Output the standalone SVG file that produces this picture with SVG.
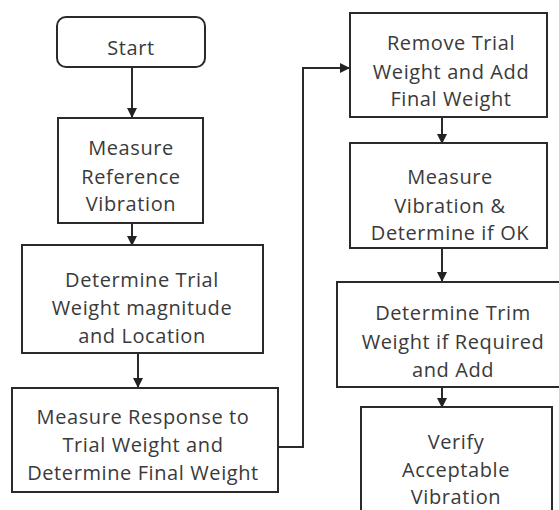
<svg xmlns="http://www.w3.org/2000/svg" width="559" height="510" viewBox="0 0 559 510">
<defs>
<marker id="ah" markerWidth="10" markerHeight="10" refX="9" refY="5" orient="auto" markerUnits="userSpaceOnUse">
<path d="M0,0 L10,5 L0,10 Z" fill="#222"/>
</marker>
<style>
.box{fill:#fff;stroke:#2a2a2a;stroke-width:2}
.t{font-family:"Open Sans","Liberation Sans",sans-serif;font-size:20px;letter-spacing:0.6px;fill:#3a3a3a;text-anchor:middle}
.c{fill:none;stroke:#2a2a2a;stroke-width:2;marker-end:url(#ah)}
</style>
</defs>
<rect width="559" height="510" fill="#fff"/>
<g id="connectors">
<line class="c" x1="132" y1="67" x2="132" y2="117"/>
<line class="c" x1="132" y1="223" x2="132" y2="245"/>
<line class="c" x1="138" y1="353" x2="138" y2="387"/>
<polyline class="c" points="278,447 303,447 303,68 349,68"/>
<line class="c" x1="442" y1="117" x2="442" y2="143"/>
<line class="c" x1="442" y1="248" x2="442" y2="281"/>
<line class="c" x1="442" y1="387" x2="442" y2="407"/>
</g>
<g id="start">
<rect class="box" x="57" y="17" width="148" height="50" rx="9"/>
<text class="t" x="131" y="55">Start</text>
</g>
<g id="measure-ref">
<rect class="box" x="58" y="118" width="145" height="105"/>
<text class="t" x="131" y="155">Measure</text>
<text class="t" x="131" y="184">Reference</text>
<text class="t" x="131" y="211">Vibration</text>
</g>
<g id="determine-trial">
<rect class="box" x="22" y="245" width="241" height="108"/>
<text class="t" x="142" y="287">Determine Trial</text>
<text class="t" x="142" y="315">Weight magnitude</text>
<text class="t" x="142" y="343">and Location</text>
</g>
<g id="measure-response">
<rect class="box" x="12" y="388" width="266" height="104"/>
<text class="t" x="143" y="424">Measure Response to</text>
<text class="t" x="143" y="452">Trial Weight and</text>
<text class="t" x="143" y="480">Determine Final Weight</text>
</g>
<g id="remove-trial">
<rect class="box" x="350" y="13" width="197" height="104"/>
<text class="t" x="451" y="50">Remove Trial</text>
<text class="t" x="451" y="79">Weight and Add</text>
<text class="t" x="451" y="106">Final Weight</text>
</g>
<g id="measure-vibration">
<rect class="box" x="350" y="143" width="197" height="105"/>
<text class="t" x="450" y="184">Measure</text>
<text class="t" x="450" y="213">Vibration &amp;</text>
<text class="t" x="450" y="240">Determine if OK</text>
</g>
<g id="determine-trim">
<rect class="box" x="337" y="282" width="225" height="105"/>
<text class="t" x="453" y="320">Determine Trim</text>
<text class="t" x="453" y="349">Weight if Required</text>
<text class="t" x="453" y="377">and Add</text>
</g>
<g id="verify">
<rect class="box" x="361" y="407" width="191" height="110"/>
<text class="t" x="456" y="449">Verify</text>
<text class="t" x="456" y="477">Acceptable</text>
<text class="t" x="456" y="504">Vibration</text>
</g>
</svg>
